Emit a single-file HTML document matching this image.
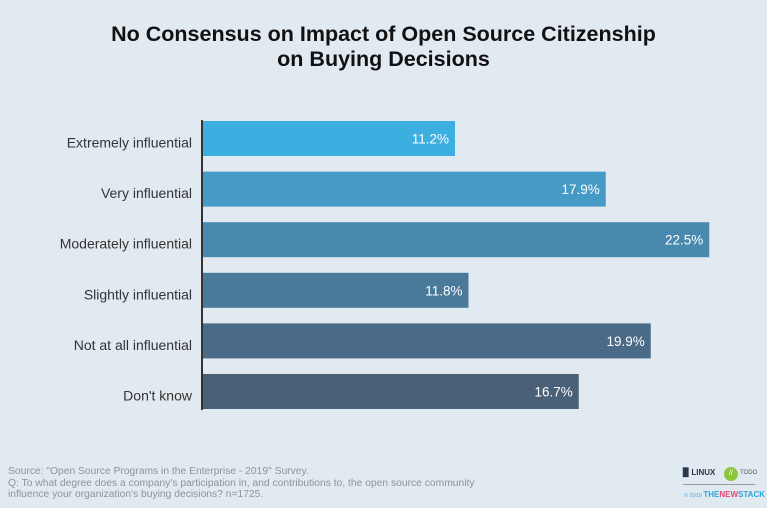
<!DOCTYPE html>
<html><head><meta charset="utf-8"><style>
body{margin:0;width:767px;height:508px;background:#e1e9f1;font-family:"Liberation Sans",sans-serif;overflow:hidden;position:relative}
.t{position:absolute;left:0;width:767px;text-align:center;font-weight:bold;font-size:21.5px;color:#111;line-height:25px;top:22px}
.foot{position:absolute;left:8px;top:466px;font-size:10.3px;color:#8b949d;line-height:11.5px}
</style></head><body>
<div class="t">No Consensus on Impact of Open Source Citizenship<br>on Buying Decisions</div>
<svg id="c" width="767" height="508" style="position:absolute;left:0;top:0"></svg>
<div class="foot">Source: "Open Source Programs in the Enterprise - 2019" Survey.<br>Q: To what degree does a company's participation in, and contributions to, the open source community<br>influence your organization's buying decisions? n=1725.</div>
<div style="position:absolute;left:683px;top:468px;font-size:8px;font-weight:bold;color:#2b3a4a">▉ LINUX</div>
<div style="position:absolute;left:724px;top:467px;width:14px;height:14px;border-radius:7px;background:#8cc63f;color:#fff;font-size:7px;text-align:center;line-height:14px">//</div>
<div style="position:absolute;left:740px;top:470px;font-size:6px;color:#555">TODO</div>
<div style="position:absolute;left:683px;top:484px;width:72px;border-top:1px solid #999"></div>
<div style="position:absolute;left:684px;top:490px;font-size:5.5px;color:#3daee0;white-space:nowrap">© 2019 <b style="font-size:8px;color:#2aa8e0">THE<span style="color:#e8457a">NEW</span>STACK</b></div>
<script>
const categories=["Extremely influential","Very influential","Moderately influential","Slightly influential","Not at all influential","Don't know"];
const values=[11.2,17.9,22.5,11.8,19.9,16.7];
const labels=["11.2%","17.9%","22.5%","11.8%","19.9%","16.7%"];
const colors=["#3daee0","#469bc6","#4a89ae","#4a7a9a","#4a6b88","#4a5f78"];
const svg=document.getElementById('c');const NS="http://www.w3.org/2000/svg";
const x0=203,scale=22.5,y0=121,pitch=50.6,bh=35;
const xs=v=>x0+v*scale, ys=i=>y0+i*pitch;
function mk(t,a){const e=document.createElementNS(NS,t);for(const k in a)e.setAttribute(k,a[k]);svg.appendChild(e);return e;}
categories.forEach((c,i)=>{
 const r=mk('rect',{x:x0,y:ys(i),width:xs(values[i])-x0,height:bh,fill:colors[i]});
 
 
 const v=mk('text',{x:xs(values[i])-6,y:ys(i)+bh/2+5,'text-anchor':'end','font-size':'13.5',fill:'#fff','font-family':'Liberation Sans'});v.textContent=labels[i];
 
 
 const l=mk('text',{x:192,y:ys(i)+bh/2+9,'text-anchor':'end','font-size':'14',fill:'#333','font-family':'Liberation Sans'});l.textContent=c;
 
 
});
const ax=mk('line',{x1:202,x2:202,y1:120,y2:410,stroke:'#333','stroke-width':2});


</script>
</body></html>
